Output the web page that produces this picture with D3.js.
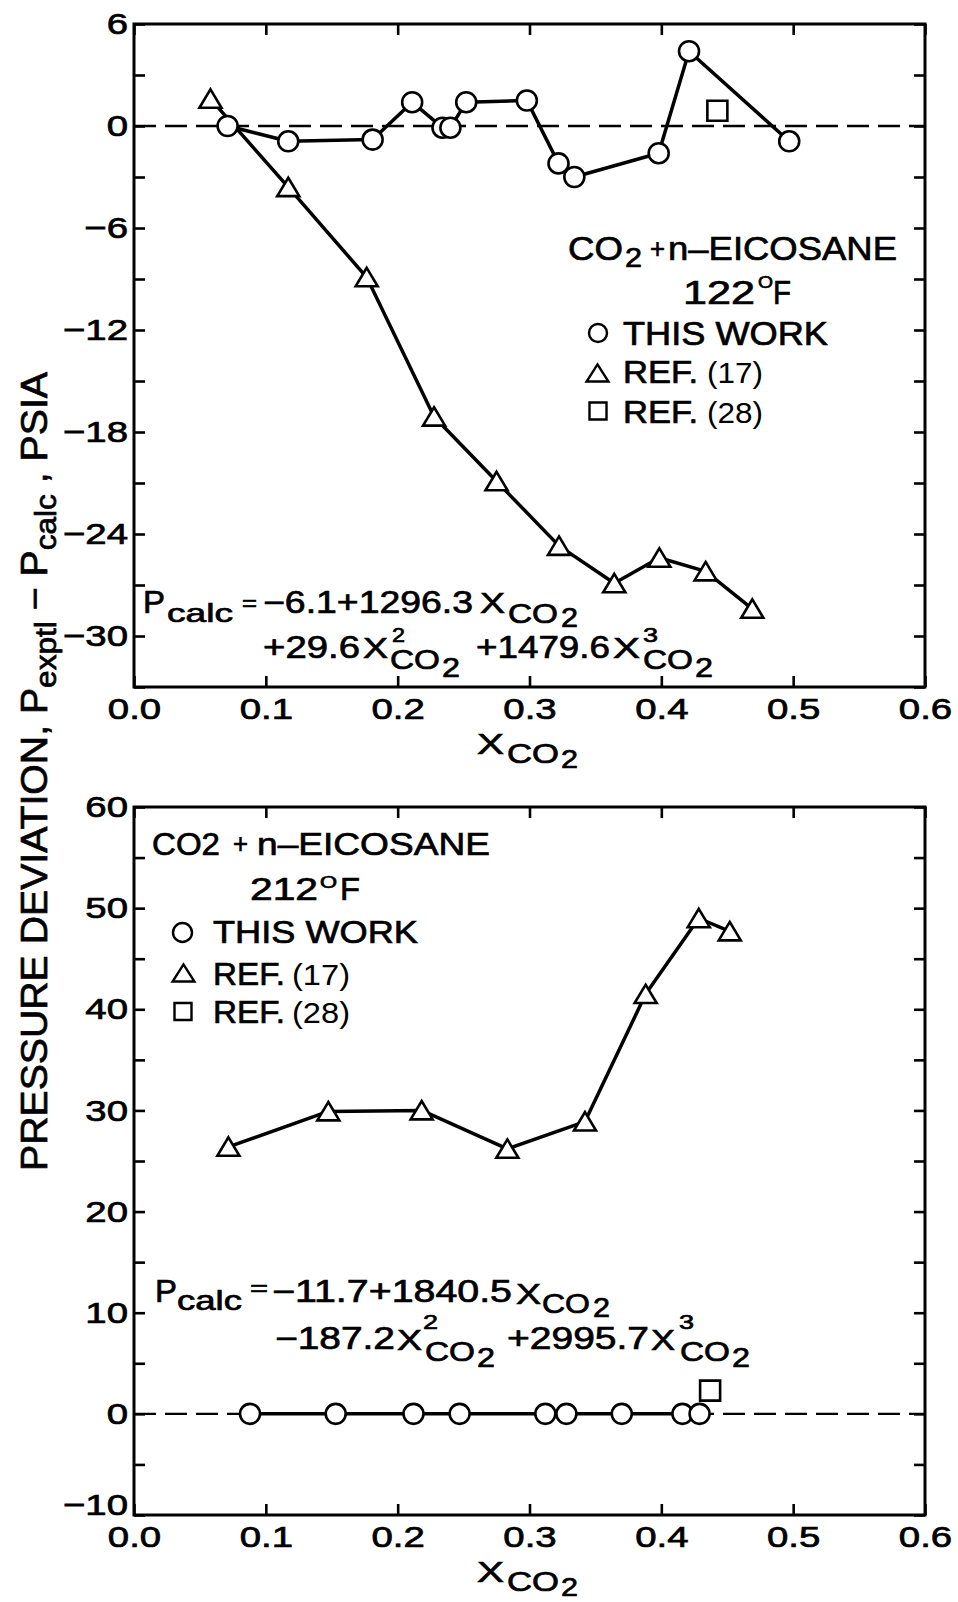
<!DOCTYPE html>
<html>
<head>
<meta charset="utf-8">
<script src="https://cdn.jsdelivr.net/npm/d3@7"></script>
<style>
  html, body { margin: 0; padding: 0; background: #fff; }
  svg { display: block; }
  text { font-family: "Liberation Sans", Arial, Helvetica, sans-serif; fill: #000; }
</style>
</head>
<body>
<div id="chart"></div>
<script>
// ---- shared x axis (mole fraction of CO2) ----
const xTicks = [0.0, 0.1, 0.2, 0.3, 0.4, 0.5, 0.6];
const xTickLabels = ["0.0", "0.1", "0.2", "0.3", "0.4", "0.5", "0.6"];

// ---- 122 °F panel ----
const topYTicks = [6, 3, 0, -3, -6, -9, -12, -15, -18, -21, -24, -27, -30, -33];
const topYTickLabels = ["6", "", "0", "", "−6", "", "−12", "", "−18", "", "−24", "", "−30", ""];
const topThisWorkX   = [0.071, 0.117, 0.181, 0.211, 0.234, 0.240, 0.252, 0.298, 0.322, 0.334, 0.398, 0.421, 0.497];
const topThisWorkDev = [0.0, -0.9, -0.8, 1.4, -0.1, -0.1, 1.4, 1.5, -2.2, -3.0, -1.6, 4.4, -0.9];
const topRef17X      = [0.058, 0.117, 0.1765, 0.2276, 0.275, 0.3224, 0.3643, 0.3985, 0.4336, 0.469];
const topRef17Dev    = [1.6, -3.6, -8.9, -17.1, -20.9, -24.7, -26.9, -25.4, -26.2, -28.4];
const topRef28X      = [0.4425];
const topRef28Dev    = [0.9];

// ---- 212 °F panel ----
const botYTicks = [60, 55, 50, 45, 40, 35, 30, 25, 20, 15, 10, 5, 0, -5, -10];
const botYTickLabels = ["60", "", "50", "", "40", "", "30", "", "20", "", "10", "", "0", "", "−10"];
const botThisWorkX   = [0.088, 0.153, 0.212, 0.247, 0.312, 0.328, 0.370, 0.416, 0.429];
const botThisWorkDev = [0, 0, 0, 0, 0, 0, 0, 0, 0];
const botRef17X      = [0.0716, 0.1474, 0.2182, 0.2832, 0.3421, 0.3881, 0.4284, 0.4519];
const botRef17Dev    = [26.4, 29.9, 30.0, 26.2, 28.9, 41.5, 49.0, 47.7];
const botRef28X      = [0.437];
const botRef28Dev    = [2.3];

const W = 958, H = 1602;
const svg = d3.select("#chart").append("svg").attr("width", W).attr("height", H);

const X0 = 134, X1 = 925;
const INK = "#000";
const DIGIT_STRETCH = 1.28;

// text piece with a fixed rendered width
function piece(g, s, x, y, size, w, narrow) {
  const t = g.append("text")
    .attr("x", x).attr("y", y)
    .attr("font-size", size)
    .text(s);
  if (w) t.attr("textLength", w).attr("lengthAdjust", "spacingAndGlyphs");
  if (narrow) {
    t.style("font-family", "'Liberation Sans Narrow', 'Arial Narrow', 'Liberation Sans', Arial, sans-serif");
  } else {
    t.attr("stroke", INK).attr("stroke-width", 0.7);
  }
  return t;
}

function trianglePath(hw, top, base) {
  return `M0,${-top}L${hw},${base}L${-hw},${base}Z`;
}

function drawMarkers(g, xs, ys, x, y, kind, size) {
  const pts = d3.zip(xs, ys);
  const sel = g.append("g").selectAll("path").data(pts).join("path")
    .attr("fill", "#fff").attr("stroke", INK).attr("stroke-width", 2.6)
    .attr("stroke-linejoin", "miter")
    .attr("transform", d => `translate(${x(d[0])},${y(d[1])})`);
  if (kind === "circle") {
    sel.attr("d", d3.symbol(d3.symbolCircle, Math.PI * size * size)());
  } else if (kind === "triangle") {
    sel.attr("d", trianglePath(size * 1.05, size * 0.9, size * 0.85));
  } else {
    sel.attr("d", `M${-size},${-size}h${2 * size}v${2 * size}h${-2 * size}Z`);
  }
}

function legendMarker(g, kind, cx, cy, size) {
  const p = g.append("path")
    .attr("fill", "#fff").attr("stroke", INK).attr("stroke-width", 2.4)
    .attr("transform", `translate(${cx},${cy})`);
  if (kind === "circle") p.attr("d", d3.symbol(d3.symbolCircle, Math.PI * size * size)());
  else if (kind === "triangle") p.attr("d", trianglePath(size * 1.15, size * 0.9, size * 0.9));
  else p.attr("d", `M${-size},${-size}h${2 * size}v${2 * size}h${-2 * size}Z`);
}

function panel(cfg) {
  const g = svg.append("g");
  const x = d3.scaleLinear().domain([0, 0.6]).range([X0, X1]);
  const y = d3.scaleLinear().domain(cfg.yDomain).range([cfg.yBottom, cfg.yTop]);

  // zero-deviation reference
  g.append("line")
    .attr("x1", X0).attr("x2", X1).attr("y1", y(0)).attr("y2", y(0))
    .attr("stroke", INK).attr("stroke-width", 2.4).attr("stroke-dasharray", "22,9");

  const line = d3.line().x(d => x(d[0])).y(d => y(d[1]));
  g.append("path").datum(d3.zip(cfg.twX, cfg.twDev)).attr("d", line)
    .attr("fill", "none").attr("stroke", INK).attr("stroke-width", 3.5).attr("stroke-linejoin", "round");
  g.append("path").datum(d3.zip(cfg.r17X, cfg.r17Dev)).attr("d", line)
    .attr("fill", "none").attr("stroke", INK).attr("stroke-width", 3.5).attr("stroke-linejoin", "round");

  drawMarkers(g, cfg.r17X, cfg.r17Dev, x, y, "triangle", 10.5);
  drawMarkers(g, cfg.twX, cfg.twDev, x, y, "circle", cfg.circleR);
  drawMarkers(g, cfg.r28X, cfg.r28Dev, x, y, "square", 10);

  // axes with inward ticks on all four sides
  const tickLen = -11;
  const gb = g.append("g").attr("transform", `translate(0,${cfg.yBottom})`)
    .call(d3.axisBottom(x).tickValues(xTicks).tickFormat((d, i) => xTickLabels[i])
      .tickSizeInner(tickLen).tickSizeOuter(0).tickPadding(11));
  const gt = g.append("g").attr("transform", `translate(0,${cfg.yTop})`)
    .call(d3.axisTop(x).tickValues(xTicks).tickFormat("").tickSizeInner(tickLen).tickSizeOuter(0));
  const gl = g.append("g").attr("transform", `translate(${X0},0)`)
    .call(d3.axisLeft(y).tickValues(cfg.yTicks).tickFormat((d, i) => cfg.yLabels[i])
      .tickSizeInner(tickLen).tickSizeOuter(0).tickPadding(6));
  const gr = g.append("g").attr("transform", `translate(${X1},0)`)
    .call(d3.axisRight(y).tickValues(cfg.yTicks).tickFormat("").tickSizeInner(tickLen).tickSizeOuter(0));

  [gb, gt, gl, gr].forEach(a => {
    a.select(".domain").remove();
    a.selectAll(".tick line").attr("stroke", INK).attr("stroke-width", 2.6);
  });
  gb.selectAll("text")
    .attr("font-size", 30).attr("font-family", null)
    .attr("stroke", INK).attr("stroke-width", 0.7)
    .attr("transform", `scale(${DIGIT_STRETCH},1)`);
  gl.selectAll("text")
    .attr("font-size", 30).attr("font-family", null)
    .attr("stroke", INK).attr("stroke-width", 0.7)
    .attr("x", -6 / DIGIT_STRETCH)
    .attr("transform", `scale(${DIGIT_STRETCH},1)`);
  // the lowest label sits a little above its tick, clear of the x labels
  gl.selectAll(".tick").filter(d => d === cfg.yDomain[0]).select("text").attr("y", cfg.lowLabelLift || 0);

  g.append("rect")
    .attr("x", X0).attr("y", cfg.yTop).attr("width", X1 - X0).attr("height", cfg.yBottom - cfg.yTop)
    .attr("fill", "none").attr("stroke", INK).attr("stroke-width", 3);

  // x axis title: X sub CO2
  const yb = cfg.yBottom;
  piece(g, "X", 477, yb + 67, 30, 27);
  piece(g, "CO", 507, yb + 76, 27, 52);
  piece(g, "2", 561, yb + 81, 26, 17);

  return g;
}

// ===== 122 °F =====
const gTop = panel({
  yDomain: [-33, 6], yTop: 24, yBottom: 687,
  yTicks: topYTicks, yLabels: topYTickLabels,
  twX: topThisWorkX, twDev: topThisWorkDev,
  r17X: topRef17X, r17Dev: topRef17Dev,
  r28X: topRef28X, r28Dev: topRef28Dev,
  circleR: 10
});

// legend block
piece(gTop, "CO", 568, 260, 34, 55);
piece(gTop, "2", 625, 267, 27, 17);
piece(gTop, "+", 650, 258, 28, 15);
piece(gTop, "n–EICOSANE", 668, 260, 34, 229);
piece(gTop, "122", 683, 304, 33, 72);
piece(gTop, "O", 758, 288, 17, 15);
piece(gTop, "F", 773, 304, 33, 18);
legendMarker(gTop, "circle", 598, 333, 9);
piece(gTop, "THIS WORK", 623, 345, 33, 205);
legendMarker(gTop, "triangle", 597.5, 373, 9.5);
piece(gTop, "REF.", 623, 383, 32, 75);
piece(gTop, "(17)", 707, 383, 30, 56, true);
legendMarker(gTop, "square", 598, 411, 8.5);
piece(gTop, "REF.", 623, 423, 32, 75);
piece(gTop, "(28)", 707, 423, 30, 56, true);

// fitted polynomial
piece(gTop, "P", 143, 613, 31, 22);
piece(gTop, "calc", 167, 622, 26, 66);
piece(gTop, "=", 242, 611, 22, 15);
piece(gTop, "−6.1+1296.3", 263, 613, 31, 210);
piece(gTop, "X", 480, 613, 30, 25);
piece(gTop, "CO", 508, 623, 27, 50);
piece(gTop, "2", 561, 627, 27, 17);
piece(gTop, "+29.6", 263, 658, 31, 97);
piece(gTop, "X", 363, 658, 30, 25);
piece(gTop, "2", 392, 642, 21, 13);
piece(gTop, "CO", 390, 669, 27, 50);
piece(gTop, "2", 442, 677, 27, 18);
piece(gTop, "+1479.6", 476, 658, 31, 134);
piece(gTop, "X", 613, 658, 30, 27);
piece(gTop, "3", 643, 642, 21, 15);
piece(gTop, "CO", 643, 669, 27, 50);
piece(gTop, "2", 695, 677, 27, 18);

// ===== 212 °F =====
const gBot = panel({
  yDomain: [-10, 60], yTop: 807, yBottom: 1515,
  yTicks: botYTicks, yLabels: botYTickLabels,
  twX: botThisWorkX, twDev: botThisWorkDev,
  r17X: botRef17X, r17Dev: botRef17Dev,
  r28X: botRef28X, r28Dev: botRef28Dev,
  circleR: 10, lowLabelLift: -10
});

piece(gBot, "CO2", 152, 855, 32, 68);
piece(gBot, "+", 233, 853, 28, 15);
piece(gBot, "n–EICOSANE", 257, 855, 32, 233);
piece(gBot, "212", 250, 900, 31, 68);
piece(gBot, "O", 320, 888, 16, 17);
piece(gBot, "F", 340, 900, 31, 20);
legendMarker(gBot, "circle", 182.5, 932.5, 9.5);
piece(gBot, "THIS WORK", 213, 943, 32, 205);
legendMarker(gBot, "triangle", 183.5, 973, 9.5);
piece(gBot, "REF.", 213, 985, 32, 72);
piece(gBot, "(17)", 292, 985, 30, 58, true);
legendMarker(gBot, "square", 183, 1011.5, 8.5);
piece(gBot, "REF.", 213, 1023, 32, 72);
piece(gBot, "(28)", 292, 1023, 30, 58, true);

piece(gBot, "P", 155, 1302, 32, 22);
piece(gBot, "calc", 177, 1310, 27, 65);
piece(gBot, "=", 250, 1296, 22, 18);
piece(gBot, "−11.7+1840.5", 272, 1302, 31, 240);
piece(gBot, "X", 516, 1304, 30, 25);
piece(gBot, "CO", 542, 1313, 27, 48);
piece(gBot, "2", 593, 1317, 27, 17);
piece(gBot, "−187.2", 275, 1349, 31, 120);
piece(gBot, "X", 397, 1350, 30, 25);
piece(gBot, "2", 423, 1329, 21, 15);
piece(gBot, "CO", 425, 1361, 27, 50);
piece(gBot, "2", 477, 1367, 27, 18);
piece(gBot, "+2995.7", 507, 1349, 31, 142);
piece(gBot, "X", 651, 1350, 30, 24);
piece(gBot, "3", 679, 1329, 21, 15);
piece(gBot, "CO", 680, 1361, 27, 50);
piece(gBot, "2", 732, 1367, 27, 18);

// shared y axis title, reading bottom to top
const yTitle = svg.append("g").attr("transform", "translate(47,1171) rotate(-90)")
  .append("text")
  .attr("font-size", 36)
  .attr("stroke", INK).attr("stroke-width", 0.7)
  .attr("textLength", 799).attr("lengthAdjust", "spacingAndGlyphs");
yTitle.append("tspan").text("PRESSURE DEVIATION, P");
yTitle.append("tspan").attr("font-size", 29).attr("dy", 9).text("exptl");
yTitle.append("tspan").attr("dy", -9).text(" − P");
yTitle.append("tspan").attr("font-size", 29).attr("dy", 9).text("calc");
yTitle.append("tspan").attr("dy", -9).text(" , PSIA");
</script>
</body>
</html>
